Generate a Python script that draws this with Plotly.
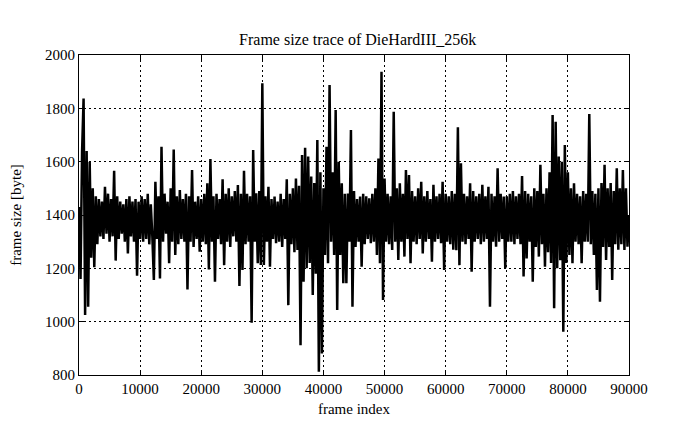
import plotly.graph_objects as go

# Frame-size samples (one value every FRAME_STEP frames)
FRAME_STEP = 250
sizes_0 = [1430, 1160, 1635, 1837, 1025, 1640, 1056, 1600, 1240, 1500,
           1204, 1470, 1290, 1460, 1320, 1450, 1310, 1506, 1330, 1480,
           1300, 1460, 1320, 1566, 1229, 1470, 1310, 1450, 1330, 1440,
           1300, 1460, 1256, 1470, 1320, 1450, 1300, 1460, 1172, 1450]
sizes_1 = [1310, 1470, 1300, 1460, 1310, 1480, 1290, 1440, 1320, 1156,
           1525, 1310, 1470, 1162, 1656, 1300, 1480, 1330, 1450, 1219,
           1500, 1300, 1646, 1250, 1470, 1290, 1494, 1310, 1460, 1300,
           1480, 1121, 1470, 1300, 1569, 1280, 1450, 1310, 1470, 1262]
sizes_2 = [1460, 1300, 1480, 1290, 1519, 1196, 1610, 1300, 1470, 1150,
           1480, 1310, 1460, 1290, 1534, 1212, 1480, 1300, 1500, 1280,
           1470, 1320, 1490, 1300, 1512, 1134, 1480, 1194, 1566, 1290,
           1480, 1300, 1470, 996, 1644, 1300, 1481, 1219, 1490, 1213]
sizes_3 = [1894, 1213, 1470, 1300, 1506, 1206, 1460, 1310, 1469, 1294,
           1450, 1300, 1480, 1280, 1460, 1310, 1534, 1062, 1480, 1290,
           1500, 1260, 1537, 1269, 1510, 912, 1625, 1150, 1652, 1200,
           1619, 1220, 1544, 1100, 1520, 1180, 1681, 812, 1560, 881]
sizes_4 = [1500, 1250, 1656, 1219, 1887, 1300, 1560, 1250, 1794, 1044,
           1600, 1250, 1519, 1144, 1480, 1144, 1481, 1300, 1719, 1056,
           1490, 1280, 1460, 1300, 1469, 1206, 1480, 1290, 1470, 1310,
           1463, 1294, 1480, 1300, 1500, 1250, 1612, 1219, 1937, 1081]
sizes_5 = [1537, 1300, 1480, 1290, 1470, 1269, 1787, 1300, 1500, 1231,
           1519, 1300, 1480, 1244, 1569, 1310, 1550, 1219, 1490, 1300,
           1470, 1290, 1500, 1310, 1525, 1256, 1470, 1300, 1490, 1310,
           1460, 1225, 1513, 1300, 1470, 1310, 1480, 1294, 1525, 1194]
sizes_6 = [1480, 1300, 1470, 1290, 1490, 1270, 1480, 1268, 1729, 1212,
           1594, 1300, 1480, 1290, 1470, 1310, 1519, 1187, 1490, 1300,
           1470, 1310, 1480, 1290, 1513, 1300, 1470, 1310, 1506, 1056,
           1480, 1300, 1470, 1281, 1575, 1300, 1480, 1310, 1469, 1200]
sizes_7 = [1470, 1300, 1480, 1300, 1490, 1290, 1470, 1310, 1480, 1290,
           1546, 1169, 1490, 1237, 1480, 1300, 1470, 1150, 1500, 1280,
           1490, 1244, 1588, 1290, 1480, 1206, 1500, 1260, 1560, 1220,
           1775, 1050, 1750, 1200, 1619, 1230, 1600, 962, 1662, 1220]
sizes_8 = [1560, 1250, 1500, 1219, 1519, 1300, 1480, 1290, 1470, 1219,
           1490, 1300, 1480, 1300, 1779, 1290, 1490, 1250, 1480, 1119,
           1500, 1075, 1520, 1280, 1588, 1231, 1500, 1280, 1520, 1156,
           1490, 1290, 1575, 1270, 1500, 1290, 1569, 1269, 1500, 1281,
           1400]

x_ticks = [0, 10000, 20000, 30000, 40000, 50000, 60000, 70000, 80000, 90000]
y_ticks = [800, 1000, 1200, 1400, 1600, 1800, 2000]

sizes = sizes_0 + sizes_1 + sizes_2 + sizes_3 + sizes_4 + sizes_5 + sizes_6 + sizes_7 + sizes_8
frames = [i * FRAME_STEP for i in range(len(sizes))]

FONT = "Liberation Serif, Times New Roman, serif"

fig = go.Figure()
fig.add_trace(go.Scatter(x=frames, y=sizes, mode="lines",
                         line=dict(color="black", width=2.5),
                         showlegend=False, hoverinfo="skip"))

axis_common = dict(
    showline=True, linecolor="black", linewidth=1, mirror="allticks",
    ticks="inside", ticklen=5, tickcolor="black",
    showgrid=True, gridcolor="black", gridwidth=1, griddash="2px,3px",
    zeroline=False, automargin=False,
    tickfont=dict(family=FONT, size=15, color="black"),
)

fig.update_xaxes(range=[0, 90000], tickvals=x_ticks,
                 ticktext=[str(v) for v in x_ticks],
                 title=dict(text="frame index", font=dict(family=FONT, size=15, color="black"), standoff=7),
                 **axis_common)
fig.update_yaxes(range=[800, 2000], tickvals=y_ticks,
                 ticktext=[str(v) for v in y_ticks],
                 title=dict(text="frame size [byte]", font=dict(family=FONT, size=15, color="black"), standoff=20),
                 **axis_common)

# The page body adds an 8px offset, so the figure is sized to fit the 695x429 window.
fig.update_layout(
    width=687, height=421,
    margin=dict(l=71, r=66, t=47, b=54),
    paper_bgcolor="white", plot_bgcolor="white",
    title=dict(text="Frame size trace of DieHardIII_256k", x=0.509, xanchor="center",
               y=0.926, yanchor="middle",
               font=dict(family=FONT, size=16, color="black")),
)

fig.write_html("out.html")
